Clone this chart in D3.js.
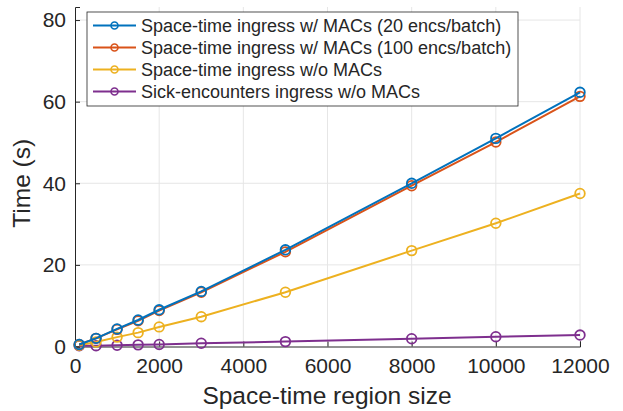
<!DOCTYPE html>
<html>
<head>
<meta charset="utf-8">
<script src="https://cdn.jsdelivr.net/npm/d3@7"></script>
<style>
body{margin:0;background:#fff;}
text{font-family:"Liberation Sans",Arial,Helvetica,sans-serif;fill:#262626;}
</style>
</head>
<body>
<script>
const sizes = [100, 500, 1000, 1500, 2000, 3000, 5000, 8000, 10000, 12000];
const mac20 = [0.5, 2.0, 4.3, 6.5, 9.0, 13.5, 23.7, 40.0, 51.0, 62.3];
const mac100 = [0.5, 2.0, 4.2, 6.3, 8.8, 13.3, 23.2, 39.4, 50.1, 61.3];
const noMac = [0.3, 1.1, 2.3, 3.4, 4.8, 7.3, 13.3, 23.5, 30.2, 37.5];
const sick = [0.2, 0.2, 0.3, 0.4, 0.5, 0.8, 1.2, 1.9, 2.4, 2.8];
const seriesNames = ["Space-time ingress w/ MACs (20 encs/batch)",
  "Space-time ingress w/ MACs (100 encs/batch)",
  "Space-time ingress w/o MACs",
  "Sick-encounters ingress w/o MACs"];
const colors = ["#0072BD", "#D95319", "#EDB120", "#7E2F8E"];
const xTicks = [0, 2000, 4000, 6000, 8000, 10000, 12000];
const yTicks = [0, 20, 40, 60, 80];

const w = 623, h = 411;
const svg = d3.select("body").append("svg").attr("width", w).attr("height", h);

const x = d3.scaleLinear().domain([0, 12000]).range([75, 580]);
const y = d3.scaleLinear().domain([0, 83.2]).range([346.5, 7]);

// grid
svg.append("g").selectAll("line").data(xTicks.slice(1)).enter().append("line")
  .attr("x1", d => x(d)).attr("x2", d => x(d)).attr("y1", y(0)).attr("y2", y(83.2))
  .attr("stroke", "#e6e6e6").attr("stroke-width", 1);
svg.append("g").selectAll("line").data(yTicks.slice(1)).enter().append("line")
  .attr("x1", x(0)).attr("x2", x(12000)).attr("y1", d => y(d)).attr("y2", d => y(d))
  .attr("stroke", "#e6e6e6").attr("stroke-width", 1);

// axes
const xAxis = d3.axisBottom(x).tickValues(xTicks).tickSize(-5).tickPadding(10).tickFormat(d3.format("d"));
const gx = svg.append("g").attr("transform", "translate(0," + y(0) + ")").call(xAxis);
const yAxis = d3.axisLeft(y).tickValues(yTicks).tickSize(-5).tickPadding(9);
const gy = svg.append("g").attr("transform", "translate(" + x(0) + ",0)").call(yAxis);
[gx, gy].forEach(g => {
  g.select(".domain").attr("stroke", "#262626").attr("stroke-width", 1);
  g.selectAll(".tick line").attr("stroke", "#262626");
  g.selectAll(".tick text").style("font-size", "21px").attr("fill", "#262626");
});
gx.selectAll(".tick text").attr("dy", "0.8em");

svg.append("text").attr("x", 327).attr("y", 404).attr("text-anchor", "middle")
  .style("font-size", "24.5px").text("Space-time region size");
svg.append("text").attr("transform", "translate(30," + y(40) + ") rotate(-90)")
  .attr("text-anchor", "middle").style("font-size", "24.5px").text("Time (s)");

const allSeries = [mac20, mac100, noMac, sick];
const line = d3.line().x((d, i) => x(sizes[i])).y(d => y(d));
allSeries.slice().reverse().forEach((s, k) => {
  const i = allSeries.length - 1 - k;
  const g = svg.append("g");
  g.append("path").datum(s).attr("d", line).attr("fill", "none")
    .attr("stroke", colors[i]).attr("stroke-width", 2);
  g.selectAll("circle").data(s).enter().append("circle")
    .attr("cx", (d, j) => x(sizes[j])).attr("cy", d => y(d)).attr("r", 4.8)
    .attr("fill", "none").attr("stroke", colors[i]).attr("stroke-width", 1.8);
});

// legend
const lg = svg.append("g");
lg.append("rect").attr("x", 87).attr("y", 12).attr("width", 431).attr("height", 94)
  .attr("fill", "#fff").attr("stroke", "#262626").attr("stroke-width", 0.8);
seriesNames.forEach((n, i) => {
  const cy = 25.5 + i * 22;
  lg.append("line").attr("x1", 93).attr("x2", 136).attr("y1", cy).attr("y2", cy)
    .attr("stroke", colors[i]).attr("stroke-width", 2);
  lg.append("circle").attr("cx", 114.5).attr("cy", cy).attr("r", 3.5)
    .attr("fill", "none").attr("stroke", colors[i]).attr("stroke-width", 1.6);
  lg.append("text").attr("x", 141).attr("y", cy + 6.5).style("font-size", "18px").text(n);
});
</script>
</body>
</html>
